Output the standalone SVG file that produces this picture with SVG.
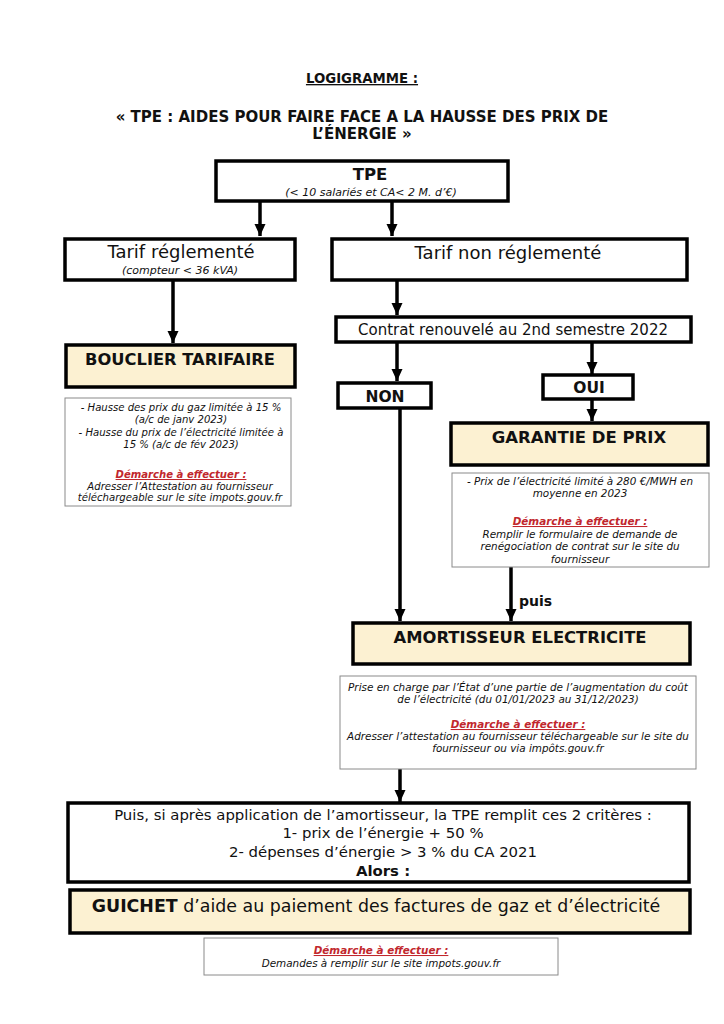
<svg xmlns="http://www.w3.org/2000/svg" width="724" height="1024" viewBox="0 0 724 1024">
<defs>
<style>
text{font-family:"DejaVu Sans","Liberation Sans",sans-serif;fill:#111;text-anchor:middle}
.b{font-weight:700}
.box{fill:#fff;stroke:#000;stroke-width:3.5}
.ybox{fill:#fcf1d2;stroke:#000;stroke-width:3.5}
.note{fill:#fff;stroke:#8a8a8a;stroke-width:1}
.n{font-size:10.4px;font-style:italic}
.red{font-size:10.4px;font-style:italic;font-weight:700;fill:#c1272d;text-decoration:underline}
.ln{stroke:#000;stroke-width:3.5;fill:none}
</style>
<marker id="ah" markerUnits="userSpaceOnUse" markerWidth="14" markerHeight="14" viewBox="0 0 14 14" refX="12" refY="7" orient="auto">
<path d="M0,1.5 L12,7 L0,12.5 Z" fill="#000"/>
</marker>
</defs>
<rect width="724" height="1024" fill="#fff"/>
<g id="title">
<text x="362" y="83" class="b" font-size="13.3" text-decoration="underline">LOGIGRAMME :</text>
<text x="362" y="122" class="b" font-size="15">« TPE : AIDES POUR FAIRE FACE A LA HAUSSE DES PRIX DE</text>
<text x="362" y="139" class="b" font-size="15">L’ÉNERGIE »</text>
</g>
<g id="connectors">
<line class="ln" x1="260" y1="202" x2="260" y2="236" marker-end="url(#ah)"/>
<line class="ln" x1="392" y1="202" x2="392" y2="236" marker-end="url(#ah)"/>
<line class="ln" x1="173" y1="280" x2="173" y2="343" marker-end="url(#ah)"/>
<line class="ln" x1="397" y1="280" x2="397" y2="315" marker-end="url(#ah)"/>
<line class="ln" x1="397" y1="343" x2="397" y2="381" marker-end="url(#ah)"/>
<line class="ln" x1="592" y1="343" x2="592" y2="374" marker-end="url(#ah)"/>
<line class="ln" x1="592" y1="399" x2="592" y2="421" marker-end="url(#ah)"/>
<line class="ln" x1="400" y1="408" x2="400" y2="621" marker-end="url(#ah)"/>
<line class="ln" x1="511" y1="567" x2="511" y2="621" marker-end="url(#ah)"/>
<text x="519" y="606" class="b" font-size="14" style="text-anchor:start">puis</text>
<line class="ln" x1="400" y1="769" x2="400" y2="802" marker-end="url(#ah)"/>
</g>
<g id="tpe">
<rect class="box" x="216" y="161" width="292" height="40"/>
<text x="370" y="180" class="b" font-size="16.5">TPE</text>
<text x="371" y="196" font-size="11" font-style="italic">(&lt; 10 salariés et CA&lt; 2 M. d’€)</text>
</g>
<g id="tarif-reglemente">
<rect class="box" x="65" y="239" width="230" height="41"/>
<text x="181" y="258" font-size="18">Tarif réglementé</text>
<text x="180" y="274" font-size="11" font-style="italic">(compteur &lt; 36 kVA)</text>
</g>
<g id="tarif-non-reglemente">
<rect class="box" x="332" y="239" width="355" height="41"/>
<text x="508" y="259" font-size="18">Tarif non réglementé</text>
</g>
<g id="bouclier">
<rect class="ybox" x="66" y="345" width="229" height="42"/>
<text x="180" y="365" class="b" font-size="16.3">BOUCLIER TARIFAIRE</text>
</g>
<g id="note-bouclier">
<rect class="note" x="65" y="398" width="226" height="108"/>
<text x="181" y="411" class="n" style="font-size:10.1px">- Hausse des prix du gaz limitée à 15 %</text>
<text x="181" y="423" class="n" style="font-size:10.1px">(a/c de janv 2023)</text>
<text x="181" y="436" class="n" style="font-size:10.1px">- Hausse du prix de l’électricité limitée à</text>
<text x="181" y="448" class="n" style="font-size:10.1px">15 % (a/c de fév 2023)</text>
<text x="181" y="478" class="red" style="font-size:10.1px">Démarche à effectuer :</text>
<text x="180" y="490" class="n" style="font-size:10.1px">Adresser l’Attestation au fournisseur</text>
<text x="180" y="501" class="n" style="font-size:10.1px">téléchargeable sur le site impots.gouv.fr</text>
</g>
<g id="contrat">
<rect class="box" x="336" y="317" width="355" height="25" stroke-width="3"/>
<text x="513" y="335" font-size="15">Contrat renouvelé au 2nd semestre 2022</text>
</g>
<g id="non">
<rect class="box" x="338" y="383" width="93" height="25" stroke-width="3"/>
<text x="385" y="402" class="b" font-size="15.5">NON</text>
</g>
<g id="oui">
<rect class="box" x="543" y="375" width="90" height="24" stroke-width="3"/>
<text x="589" y="393" class="b" font-size="15.5">OUI</text>
</g>
<g id="garantie">
<rect class="ybox" x="451" y="423" width="257" height="42"/>
<text x="579" y="443" class="b" font-size="16.5">GARANTIE DE PRIX</text>
</g>
<g id="note-garantie">
<rect class="note" x="452" y="473" width="257" height="94"/>
<text x="580" y="485" class="n">- Prix de l’électricité limité à 280 €/MWH en</text>
<text x="580" y="497" class="n">moyenne en 2023</text>
<text x="580" y="525" class="red">Démarche à effectuer :</text>
<text x="580" y="538" class="n">Remplir le formulaire de demande de</text>
<text x="580" y="550" class="n">renégociation de contrat sur le site du</text>
<text x="580" y="563" class="n">fournisseur</text>
</g>
<g id="amortisseur">
<rect class="ybox" x="353" y="623" width="337" height="41"/>
<text x="520" y="643" class="b" font-size="16.4">AMORTISSEUR ELECTRICITE</text>
</g>
<g id="note-amortisseur">
<rect class="note" x="340" y="676" width="356" height="93"/>
<text x="518" y="691" class="n">Prise en charge par l’État d’une partie de l’augmentation du coût</text>
<text x="518" y="703" class="n">de l’électricité (du 01/01/2023 au 31/12/2023)</text>
<text x="518" y="728" class="red">Démarche à effectuer :</text>
<text x="518" y="740" class="n">Adresser l’attestation au fournisseur téléchargeable sur le site du</text>
<text x="518" y="752" class="n">fournisseur ou via impôts.gouv.fr</text>
</g>
<g id="criteres">
<rect class="box" x="68" y="803" width="621" height="79"/>
<text x="383" y="820" font-size="14.9">Puis, si après application de l’amortisseur, la TPE remplit ces 2 critères :</text>
<text x="383" y="838" font-size="14.9">1- prix de l’énergie + 50 %</text>
<text x="383" y="857" font-size="14.9">2- dépenses d’énergie &gt; 3 % du CA 2021</text>
<text x="383" y="876" class="b" font-size="14.9">Alors :</text>
</g>
<g id="guichet">
<rect class="ybox" x="70" y="890" width="620" height="43"/>
<text x="376" y="912" font-size="17.4"><tspan font-weight="700">GUICHET</tspan> d’aide au paiement des factures de gaz et d’électricité</text>
</g>
<g id="note-guichet">
<rect class="note" x="204" y="938" width="354" height="37"/>
<text x="381" y="954" class="red">Démarche à effectuer :</text>
<text x="381" y="967" class="n">Demandes à remplir sur le site impots.gouv.fr</text>
</g>
</svg>
